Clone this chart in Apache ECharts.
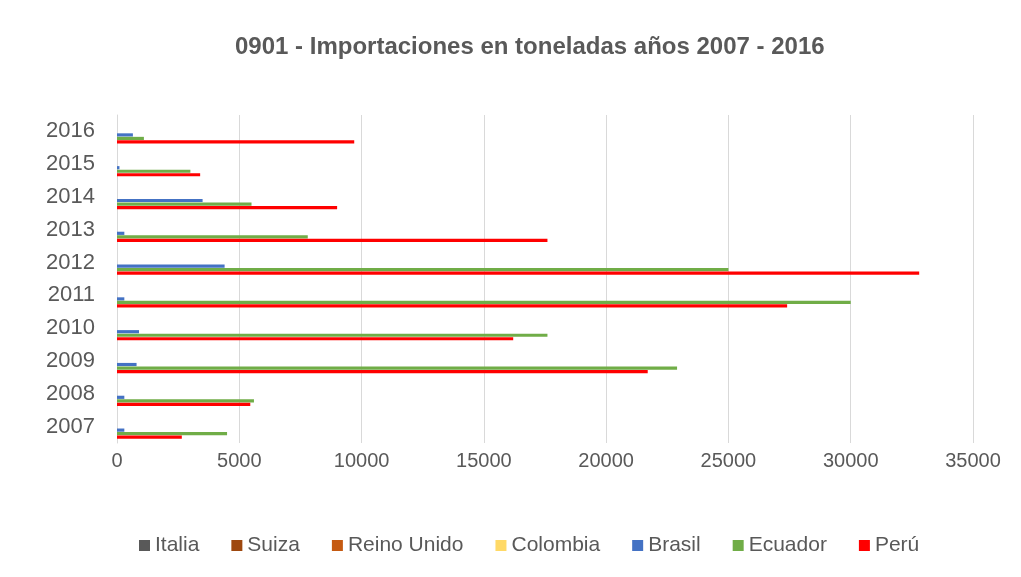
<!DOCTYPE html>
<html>
<head>
<meta charset="utf-8">
<script src="https://cdn.jsdelivr.net/npm/echarts@6/dist/echarts.min.js"></script>
<style>html,body{margin:0;padding:0;background:#fff}#c{width:1021px;height:577px}</style>
</head>
<body>
<div id="c"></div>
<script>
var years = ['2007','2008','2009','2010','2011','2012','2013','2014','2015','2016'];
var seriesNames = ['Italia','Suiza','Reino Unido','Colombia','Brasil','Ecuador','Perú'];
var italia     = [0,0,0,0,0,0,0,0,0,0];
var suiza      = [0,0,0,0,0,0,0,0,0,0];
var reinoUnido = [0,0,0,0,0,0,0,0,0,0];
var colombia   = [0,0,0,0,0,0,0,0,0,0];
var brasil     = [300,300,800,900,300,4400,300,3500,100,650];
var ecuador    = [4500,5600,22900,17600,30000,25000,7800,5500,3000,1100];
var peru       = [2650,5450,21700,16200,27400,32800,17600,9000,3400,9700];
var colors = ['#595959','#9E480E','#C55A11','#FFD966','#4472C4','#70AD47','#FF0000'];
var xTicks = [0,5000,10000,15000,20000,25000,30000,35000];

var dataSets = [italia,suiza,reinoUnido,colombia,brasil,ecuador,peru];
var FONT = "'Liberation Sans Narrow','Liberation Sans',sans-serif";
var series = seriesNames.map(function(n,i){
  return {name:n,type:'bar',data:dataSets[i],barWidth:3.2,barGap:'10%',
    itemStyle:{color:colors[i]},emphasis:{disabled:true}};
});
var chart = echarts.init(document.getElementById('c'),null,{renderer:'canvas'});
chart.setOption({
  animation:false,
  backgroundColor:'#fff',
  title:{text:'0901 - Importaciones en toneladas años 2007 - 2016',left:230,top:30,
    textStyle:{fontFamily:FONT,fontWeight:'bold',fontSize:24,color:'#595959'}},
  legend:{data:seriesNames,bottom:16,left:134,itemWidth:11,itemHeight:11,itemGap:32,icon:'rect',
    textStyle:{fontFamily:FONT,fontSize:21,color:'#595959'}},
  grid:{left:117,right:48,top:115,height:328},
  xAxis:{type:'value',min:xTicks[0],max:xTicks[xTicks.length-1],interval:5000,
    axisLine:{show:false},axisTick:{show:false},
    splitLine:{lineStyle:{color:'#D9D9D9'}},
    axisLabel:{fontFamily:FONT,fontSize:20,color:'#595959',margin:8,
      formatter:function(v){return String(v);}}},
  yAxis:{type:'category',data:years,axisTick:{show:false},
    axisLine:{show:true,lineStyle:{color:'#D9D9D9'}},
    axisLabel:{fontFamily:FONT,fontSize:22,color:'#595959',margin:22}},
  series:series
});
</script>
</body>
</html>
